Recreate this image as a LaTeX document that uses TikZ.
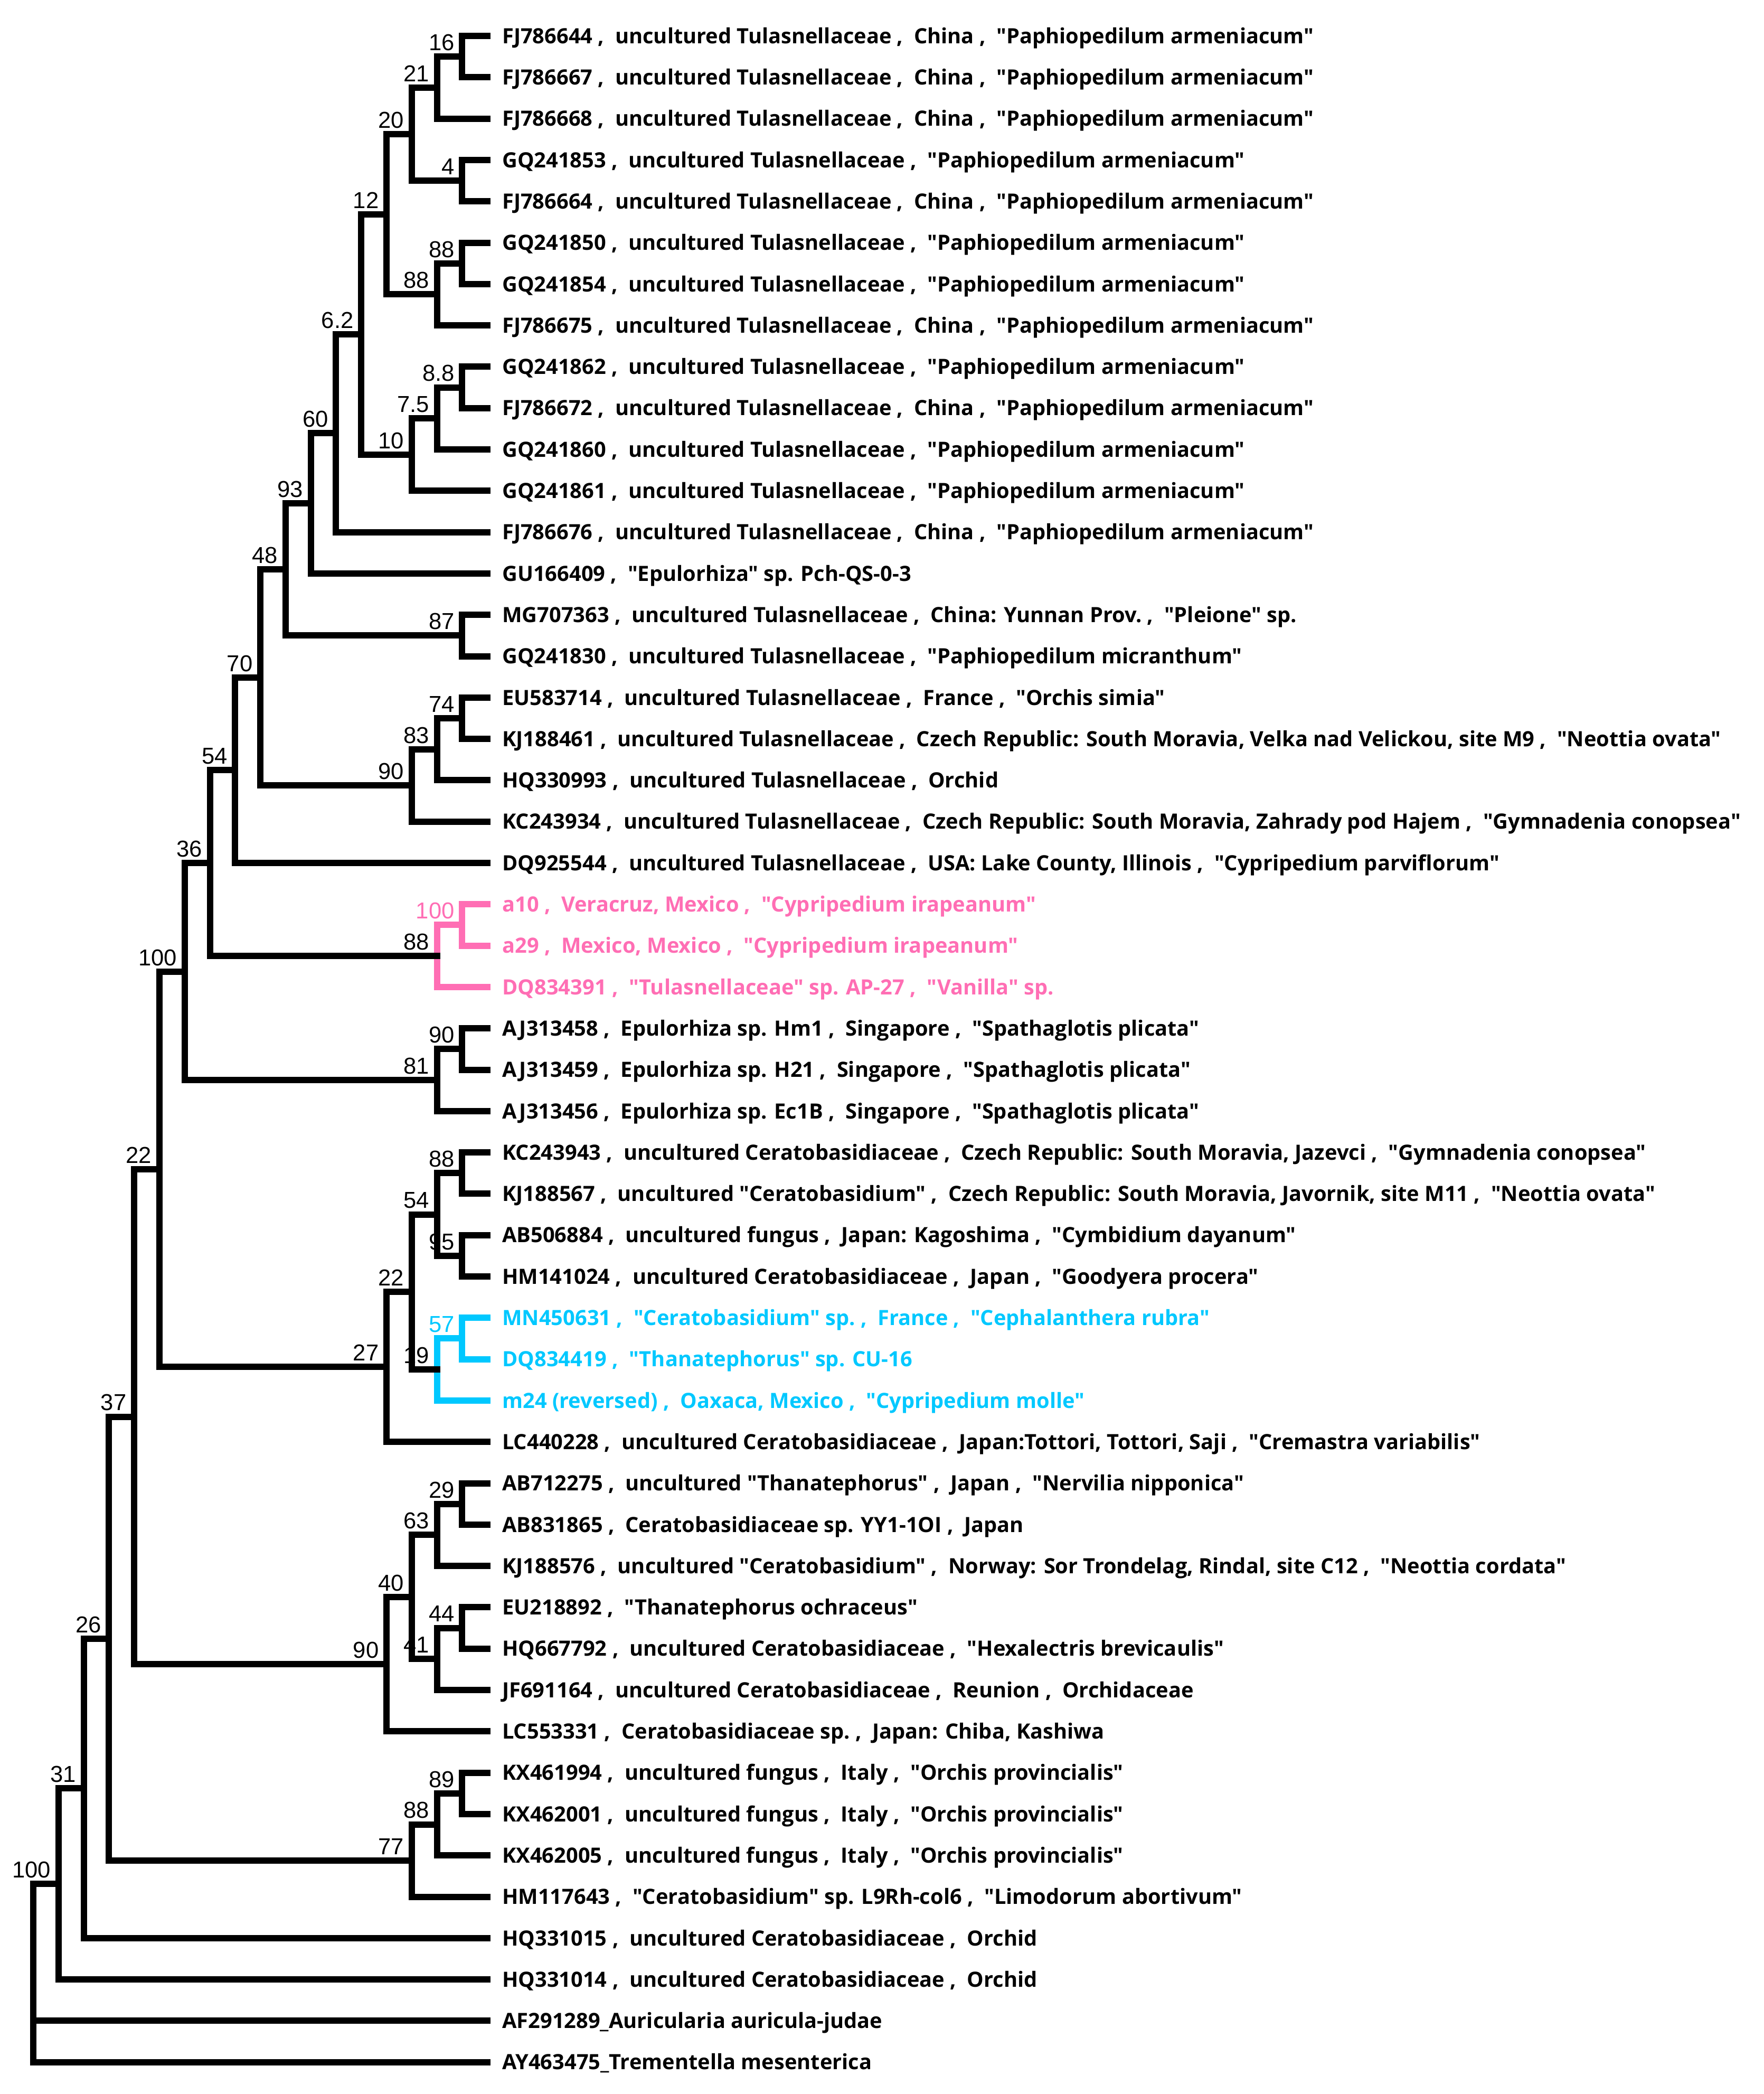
\documentclass[tikz,border=0pt]{standalone}
\usepackage{fontspec}
\newfontfamily\leaffont{Open Sans}
\newfontfamily\bootfont{Liberation Sans}
\usetikzlibrary{positioning}
\definecolor{pinkclade}{RGB}{255,110,180}
\definecolor{cyanclade}{RGB}{0,200,255}
\newcommand{\sepa}{\ ,\ \ }
\newcommand{\armen}{uncultured Tulasnellaceae\sepa China\sepa "Paphiopedilum armeniacum"}
\newcommand{\armeno}{uncultured Tulasnellaceae\sepa "Paphiopedilum armeniacum"}
\tikzset{
  branch/.style={line width=3pt},
  leaf/.style={anchor=west, inner xsep=5.25pt, inner ysep=0pt, text height=7.1pt, text depth=0pt,
    font=\leaffont\bfseries\fontsize{9.95}{12}\selectfont},
  boot/.style={anchor=base east, inner sep=0pt, xshift=-3.5pt, yshift=2.9pt,
    font=\bootfont\fontsize{10.9}{12}\selectfont},
}
\begin{document}
\begin{tikzpicture}[x=11.9475pt, y=-19.575pt]
\useasboundingbox (-1.3183,-0.8685) rectangle (68.592,49.770);

\node[leaf] (FJ786644) at (18.13,0) {FJ786644\sepa \armen};
\node[leaf] (FJ786667) at (18.13,1) {FJ786667\sepa \armen};
\node[leaf] (FJ786668) at (18.13,2) {FJ786668\sepa \armen};
\node[leaf] (GQ241853) at (18.13,3) {GQ241853\sepa \armeno};
\node[leaf] (FJ786664) at (18.13,4) {FJ786664\sepa \armen};
\node[leaf] (GQ241850) at (18.13,5) {GQ241850\sepa \armeno};
\node[leaf] (GQ241854) at (18.13,6) {GQ241854\sepa \armeno};
\node[leaf] (FJ786675) at (18.13,7) {FJ786675\sepa \armen};
\node[leaf] (GQ241862) at (18.13,8) {GQ241862\sepa \armeno};
\node[leaf] (FJ786672) at (18.13,9) {FJ786672\sepa \armen};
\node[leaf] (GQ241860) at (18.13,10) {GQ241860\sepa \armeno};
\node[leaf] (GQ241861) at (18.13,11) {GQ241861\sepa \armeno};
\node[leaf] (FJ786676) at (18.13,12) {FJ786676\sepa \armen};
\node[leaf] (GU166409) at (18.13,13) {GU166409\sepa "Epulorhiza" sp. Pch-QS-0-3};
\node[leaf] (MG707363) at (18.13,14) {MG707363\sepa uncultured Tulasnellaceae\sepa China: Yunnan Prov.\sepa "Pleione" sp.};
\node[leaf] (GQ241830) at (18.13,15) {GQ241830\sepa uncultured Tulasnellaceae\sepa "Paphiopedilum micranthum"};
\node[leaf] (EU583714) at (18.13,16) {EU583714\sepa uncultured Tulasnellaceae\sepa France\sepa "Orchis simia"};
\node[leaf] (KJ188461) at (18.13,17) {KJ188461\sepa uncultured Tulasnellaceae\sepa Czech Republic: South Moravia, Velka nad Velickou, site M9\sepa "Neottia ovata"};
\node[leaf] (HQ330993) at (18.13,18) {HQ330993\sepa uncultured Tulasnellaceae\sepa Orchid};
\node[leaf] (KC243934) at (18.13,19) {KC243934\sepa uncultured Tulasnellaceae\sepa Czech Republic: South Moravia, Zahrady pod Hajem\sepa "Gymnadenia conopsea"};
\node[leaf] (DQ925544) at (18.13,20) {DQ925544\sepa uncultured Tulasnellaceae\sepa USA: Lake County, Illinois\sepa "Cypripedium parviflorum"};
\node[leaf, text=pinkclade] (a10) at (18.13,21) {a10\sepa Veracruz, Mexico\sepa "Cypripedium irapeanum"};
\node[leaf, text=pinkclade] (a29) at (18.13,22) {a29\sepa Mexico, Mexico\sepa "Cypripedium irapeanum"};
\node[leaf, text=pinkclade] (DQ834391) at (18.13,23) {DQ834391\sepa "Tulasnellaceae" sp. AP-27\sepa "Vanilla" sp.};
\node[leaf] (AJ313458) at (18.13,24) {AJ313458\sepa Epulorhiza sp. Hm1\sepa Singapore\sepa "Spathaglotis plicata"};
\node[leaf] (AJ313459) at (18.13,25) {AJ313459\sepa Epulorhiza sp. H21\sepa Singapore\sepa "Spathaglotis plicata"};
\node[leaf] (AJ313456) at (18.13,26) {AJ313456\sepa Epulorhiza sp. Ec1B\sepa Singapore\sepa "Spathaglotis plicata"};
\node[leaf] (KC243943) at (18.13,27) {KC243943\sepa uncultured Ceratobasidiaceae\sepa Czech Republic: South Moravia, Jazevci\sepa "Gymnadenia conopsea"};
\node[leaf] (KJ188567) at (18.13,28) {KJ188567\sepa uncultured "Ceratobasidium"\sepa Czech Republic: South Moravia, Javornik, site M11\sepa "Neottia ovata"};
\node[leaf] (AB506884) at (18.13,29) {AB506884\sepa uncultured fungus\sepa Japan: Kagoshima\sepa "Cymbidium dayanum"};
\node[leaf] (HM141024) at (18.13,30) {HM141024\sepa uncultured Ceratobasidiaceae\sepa Japan\sepa "Goodyera procera"};
\node[leaf, text=cyanclade] (MN450631) at (18.13,31) {MN450631\sepa "Ceratobasidium" sp.\sepa France\sepa "Cephalanthera rubra"};
\node[leaf, text=cyanclade] (DQ834419) at (18.13,32) {DQ834419\sepa "Thanatephorus" sp. CU-16};
\node[leaf, text=cyanclade] (m24) at (18.13,33) {m24 (reversed)\sepa Oaxaca, Mexico\sepa "Cypripedium molle"};
\node[leaf] (LC440228) at (18.13,34) {LC440228\sepa uncultured Ceratobasidiaceae\sepa Japan:Tottori, Tottori, Saji\sepa "Cremastra variabilis"};
\node[leaf] (AB712275) at (18.13,35) {AB712275\sepa uncultured "Thanatephorus"\sepa Japan\sepa "Nervilia nipponica"};
\node[leaf] (AB831865) at (18.13,36) {AB831865\sepa Ceratobasidiaceae sp. YY1-1OI\sepa Japan};
\node[leaf] (KJ188576) at (18.13,37) {KJ188576\sepa uncultured "Ceratobasidium"\sepa Norway: Sor Trondelag, Rindal, site C12\sepa "Neottia cordata"};
\node[leaf] (EU218892) at (18.13,38) {EU218892\sepa "Thanatephorus ochraceus"};
\node[leaf] (HQ667792) at (18.13,39) {HQ667792\sepa uncultured Ceratobasidiaceae\sepa "Hexalectris brevicaulis"};
\node[leaf] (JF691164) at (18.13,40) {JF691164\sepa uncultured Ceratobasidiaceae\sepa Reunion\sepa Orchidaceae};
\node[leaf] (LC553331) at (18.13,41) {LC553331\sepa Ceratobasidiaceae sp.\sepa Japan: Chiba, Kashiwa};
\node[leaf] (KX461994) at (18.13,42) {KX461994\sepa uncultured fungus\sepa Italy\sepa "Orchis provincialis"};
\node[leaf] (KX462001) at (18.13,43) {KX462001\sepa uncultured fungus\sepa Italy\sepa "Orchis provincialis"};
\node[leaf] (KX462005) at (18.13,44) {KX462005\sepa uncultured fungus\sepa Italy\sepa "Orchis provincialis"};
\node[leaf] (HM117643) at (18.13,45) {HM117643\sepa "Ceratobasidium" sp. L9Rh-col6\sepa "Limodorum abortivum"};
\node[leaf] (HQ331015) at (18.13,46) {HQ331015\sepa uncultured Ceratobasidiaceae\sepa Orchid};
\node[leaf] (HQ331014) at (18.13,47) {HQ331014\sepa uncultured Ceratobasidiaceae\sepa Orchid};
\node[leaf] (AF291289) at (18.13,48) {AF291289\_Auricularia auricula-judae};
\node[leaf] (AY463475) at (18.13,49) {AY463475\_Trementella mesenterica};

\coordinate (cl16) at (17,0.5);
\coordinate (cl21) at (16,1.25);
\coordinate (cl4) at (17,3.5);
\coordinate (cl20) at (15,2.375);
\coordinate (cl88a) at (17,5.5);
\coordinate (cl88b) at (16,6.25);
\coordinate (cl12) at (14,4.3125);
\coordinate (cl8x8) at (17,8.5);
\coordinate (cl7x5) at (16,9.25);
\coordinate (cl10) at (15,10.125);
\coordinate (cl6x2) at (13,7.21875);
\coordinate (cl60) at (12,9.609375);
\coordinate (cl93) at (11,11.3046875);
\coordinate (cl87) at (17,14.5);
\coordinate (cl48) at (10,12.90234375);
\coordinate (cl74) at (17,16.5);
\coordinate (cl83) at (16,17.25);
\coordinate (cl90a) at (15,18.125);
\coordinate (cl70) at (9,15.513671875);
\coordinate (cl54a) at (8,17.7568359375);
\coordinate (cl100a) at (17,21.5);
\coordinate (cl88c) at (16,22.25);
\coordinate (cl36) at (7,20.00341796875);
\coordinate (cl90b) at (17,24.5);
\coordinate (cl81) at (16,25.25);
\coordinate (cl100b) at (6,22.626708984375);
\coordinate (cl88d) at (17,27.5);
\coordinate (cl95) at (17,29.5);
\coordinate (cl54b) at (16,28.5);
\coordinate (cl57) at (17,31.5);
\coordinate (cl19) at (16,32.25);
\coordinate (cl22a) at (15,30.375);
\coordinate (cl27) at (14,32.1875);
\coordinate (cl22b) at (5,27.4071044921875);
\coordinate (cl29) at (17,35.5);
\coordinate (cl63) at (16,36.25);
\coordinate (cl44) at (17,38.5);
\coordinate (cl41) at (16,39.25);
\coordinate (cl40) at (15,37.75);
\coordinate (cl90c) at (14,39.375);
\coordinate (cl37) at (4,33.39105224609375);
\coordinate (cl89) at (17,42.5);
\coordinate (cl88e) at (16,43.25);
\coordinate (cl77) at (15,44.125);
\coordinate (cl26) at (3,38.758026123046875);
\coordinate (cl31) at (2,42.379013061523438);
\coordinate (cl100c) at (1,44.689506530761719);
\coordinate (root) at (0,46.84);

% bootstrap values
\node[boot] (bs16) at (cl16) {16};
\node[boot] (bs21) at (cl21) {21};
\node[boot] (bs4) at (cl4) {4};
\node[boot] (bs20) at (cl20) {20};
\node[boot] (bs88a) at (cl88a) {88};
\node[boot] (bs88b) at (cl88b) {88};
\node[boot] (bs12) at (cl12) {12};
\node[boot] (bs8x8) at (cl8x8) {8.8};
\node[boot] (bs7x5) at (cl7x5) {7.5};
\node[boot] (bs10) at (cl10) {10};
\node[boot] (bs6x2) at (cl6x2) {6.2};
\node[boot] (bs60) at (cl60) {60};
\node[boot] (bs93) at (cl93) {93};
\node[boot] (bs87) at (cl87) {87};
\node[boot] (bs48) at (cl48) {48};
\node[boot] (bs74) at (cl74) {74};
\node[boot] (bs83) at (cl83) {83};
\node[boot] (bs90a) at (cl90a) {90};
\node[boot] (bs70) at (cl70) {70};
\node[boot] (bs54a) at (cl54a) {54};
\node[boot, text=pinkclade] (bs100a) at (cl100a) {100};
\node[boot] (bs88c) at (cl88c) {88};
\node[boot] (bs36) at (cl36) {36};
\node[boot] (bs90b) at (cl90b) {90};
\node[boot] (bs81) at (cl81) {81};
\node[boot] (bs100b) at (cl100b) {100};
\node[boot] (bs88d) at (cl88d) {88};
\node[boot] (bs95) at (cl95) {95};
\node[boot] (bs54b) at (cl54b) {54};
\node[boot, text=cyanclade] (bs57) at (cl57) {57};
\node[boot] (bs19) at (cl19) {19};
\node[boot] (bs22a) at (cl22a) {22};
\node[boot] (bs27) at (cl27) {27};
\node[boot] (bs22b) at (cl22b) {22};
\node[boot] (bs29) at (cl29) {29};
\node[boot] (bs63) at (cl63) {63};
\node[boot] (bs44) at (cl44) {44};
\node[boot] (bs41) at (cl41) {41};
\node[boot] (bs40) at (cl40) {40};
\node[boot] (bs90c) at (cl90c) {90};
\node[boot] (bs37) at (cl37) {37};
\node[boot] (bs89) at (cl89) {89};
\node[boot] (bs88e) at (cl88e) {88};
\node[boot] (bs77) at (cl77) {77};
\node[boot] (bs26) at (cl26) {26};
\node[boot] (bs31) at (cl31) {31};
\node[boot] (bs100c) at (cl100c) {100};

% coloured clades
\draw[branch, pinkclade] (a10.west) -| (cl100a) |- (a29.west);
\draw[branch, pinkclade] (cl100a) -| (cl88c) |- (DQ834391.west);
\draw[branch, cyanclade] (MN450631.west) -| (cl57) |- (DQ834419.west);
\draw[branch, cyanclade] (cl57) -| (cl19) |- (m24.west);

% branches
\draw[branch] (FJ786644.west) -| (cl16) |- (FJ786667.west);
\draw[branch] (cl16) -| (cl21) |- (FJ786668.west);
\draw[branch] (GQ241853.west) -| (cl4) |- (FJ786664.west);
\draw[branch] (cl21) -| (cl20) |- (cl4);
\draw[branch] (GQ241850.west) -| (cl88a) |- (GQ241854.west);
\draw[branch] (cl88a) -| (cl88b) |- (FJ786675.west);
\draw[branch] (cl20) -| (cl12) |- (cl88b);
\draw[branch] (GQ241862.west) -| (cl8x8) |- (FJ786672.west);
\draw[branch] (cl8x8) -| (cl7x5) |- (GQ241860.west);
\draw[branch] (cl7x5) -| (cl10) |- (GQ241861.west);
\draw[branch] (cl12) -| (cl6x2) |- (cl10);
\draw[branch] (cl6x2) -| (cl60) |- (FJ786676.west);
\draw[branch] (cl60) -| (cl93) |- (GU166409.west);
\draw[branch] (MG707363.west) -| (cl87) |- (GQ241830.west);
\draw[branch] (cl93) -| (cl48) |- (cl87);
\draw[branch] (EU583714.west) -| (cl74) |- (KJ188461.west);
\draw[branch] (cl74) -| (cl83) |- (HQ330993.west);
\draw[branch] (cl83) -| (cl90a) |- (KC243934.west);
\draw[branch] (cl48) -| (cl70) |- (cl90a);
\draw[branch] (cl70) -| (cl54a) |- (DQ925544.west);
\draw[branch, shorten >=-1.5pt] (cl54a) -| (cl36) |- (cl88c);
\draw[branch] (AJ313458.west) -| (cl90b) |- (AJ313459.west);
\draw[branch] (cl90b) -| (cl81) |- (AJ313456.west);
\draw[branch] (cl36) -| (cl100b) |- (cl81);
\draw[branch] (KC243943.west) -| (cl88d) |- (KJ188567.west);
\draw[branch] (AB506884.west) -| (cl95) |- (HM141024.west);
\draw[branch] (cl88d) -| (cl54b) |- (cl95);
\draw[branch, shorten >=-1.5pt] (cl54b) -| (cl22a) |- (cl19);
\draw[branch] (cl22a) -| (cl27) |- (LC440228.west);
\draw[branch] (cl100b) -| (cl22b) |- (cl27);
\draw[branch] (AB712275.west) -| (cl29) |- (AB831865.west);
\draw[branch] (cl29) -| (cl63) |- (KJ188576.west);
\draw[branch] (EU218892.west) -| (cl44) |- (HQ667792.west);
\draw[branch] (cl44) -| (cl41) |- (JF691164.west);
\draw[branch] (cl63) -| (cl40) |- (cl41);
\draw[branch] (cl40) -| (cl90c) |- (LC553331.west);
\draw[branch] (cl22b) -| (cl37) |- (cl90c);
\draw[branch] (KX461994.west) -| (cl89) |- (KX462001.west);
\draw[branch] (cl89) -| (cl88e) |- (KX462005.west);
\draw[branch] (cl88e) -| (cl77) |- (HM117643.west);
\draw[branch] (cl37) -| (cl26) |- (cl77);
\draw[branch] (cl26) -| (cl31) |- (HQ331015.west);
\draw[branch] (cl31) -| (cl100c) |- (HQ331014.west);
\draw[branch] (cl100c) -| (root) |- (AY463475.west);
\draw[branch] (root |- AF291289.west) -- (AF291289.west);
\end{tikzpicture}
\end{document}
